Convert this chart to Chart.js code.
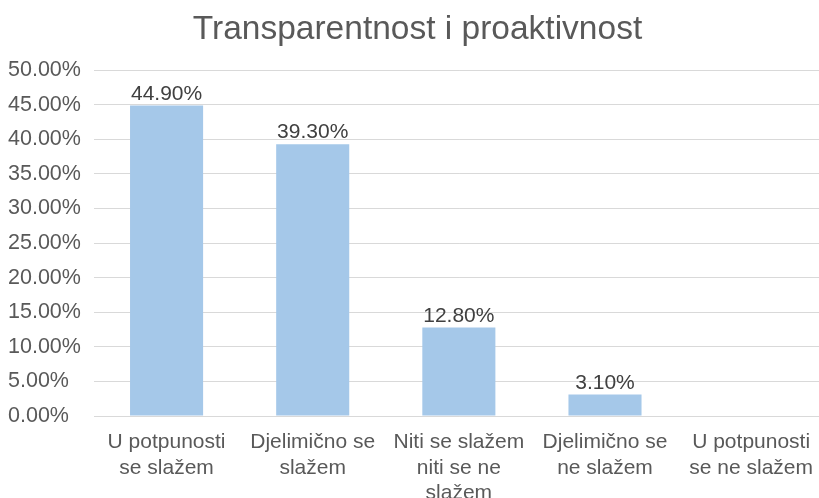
<!DOCTYPE html>
<html>
<head>
<meta charset="utf-8">
<script src="https://cdn.jsdelivr.net/npm/chart.js@4/dist/chart.umd.min.js"></script>
<style>
html,body{margin:0;padding:0;background:#fff;overflow:hidden;}
#wrap{width:819px;height:498px;position:relative;overflow:hidden;}
</style>
</head>
<body>
<div id="wrap"><canvas id="c" width="827" height="498"></canvas></div>
<script>
const title = 'Transparentnost i proaktivnost';
const categories = [
  ['U potpunosti', 'se slažem'],
  ['Djelimično se', 'slažem'],
  ['Niti se slažem', 'niti se ne', 'slažem'],
  ['Djelimično se', 'ne slažem'],
  ['U potpunosti', 'se ne slažem']
];
const values = [44.9, 39.3, 12.8, 3.1, 0];
const yTicks = [0, 5, 10, 15, 20, 25, 30, 35, 40, 45, 50];

const FONT = "'Liberation Sans', Arial, sans-serif";

const dataLabels = {
  id: 'dataLabels',
  afterDatasetsDraw(chart) {
    const ctx = chart.ctx;
    const meta = chart.getDatasetMeta(0);
    ctx.save();
    ctx.font = '21px ' + FONT;
    ctx.fillStyle = '#404040';
    ctx.textAlign = 'center';
    ctx.textBaseline = 'bottom';
    meta.data.forEach((bar, i) => {
      const v = values[i];
      if (!v) return;
      ctx.fillText(v.toFixed(2) + '%', bar.x, bar.y - 1);
    });
    ctx.restore();
  }
};

new Chart(document.getElementById('c'), {
  type: 'bar',
  data: {
    labels: categories,
    datasets: [{
      data: values,
      backgroundColor: '#a5c8e9',
      borderWidth: 0,
      categoryPercentage: 1,
      barPercentage: 0.5
    }]
  },
  options: {
    responsive: false,
    animation: false,
    devicePixelRatio: 1,
    layout: { padding: { left: 8, right: 0, top: 0, bottom: 0 } },
    plugins: {
      legend: { display: false },
      tooltip: { enabled: false },
      title: {
        display: true,
        text: title,
        color: '#595959',
        font: { family: FONT, size: 33.5, weight: 'normal', lineHeight: 1.2 },
        padding: { top: 10, bottom: 20 }
      }
    },
    scales: {
      x: {
        grid: { display: false, drawTicks: false },
        border: { display: false },
        ticks: {
          color: '#595959',
          font: { family: FONT, size: 21, lineHeight: 1.2 },
          padding: 14,
          maxRotation: 0,
          autoSkip: false
        },
        afterFit(scale) { scale.height = 82; }
      },
      y: {
        min: 0,
        max: 50,
        afterBuildTicks(scale) { scale.ticks = yTicks.map(v => ({ value: v })); },
        grid: { color: '#d9d9d9', lineWidth: 1, drawTicks: false },
        border: { display: false },
        ticks: {
          color: '#595959',
          font: { family: FONT, size: 21.5 },
          crossAlign: 'far',
          padding: 10,
          callback: v => Number(v).toFixed(2) + '%'
        },
        afterFit(scale) { scale.width = 85.5; }
      }
    }
  },
  plugins: [dataLabels]
});
</script>
</body>
</html>
